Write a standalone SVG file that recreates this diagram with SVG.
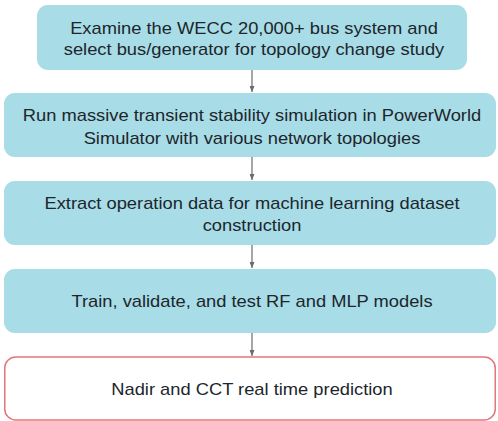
<svg xmlns="http://www.w3.org/2000/svg" width="498" height="421" viewBox="0 0 498 421">
<defs>
<style>
.box{fill:#a8dce7;}
.end{fill:#ffffff;stroke:#e3767c;stroke-width:1.5;}
.t{font-family:"Liberation Sans",Arial,sans-serif;font-size:16.8px;fill:#1c262b;text-anchor:middle;}
.c{stroke:#6b6b6b;stroke-width:1.2;fill:none;marker-end:url(#ah);}
</style>
<marker id="ah" viewBox="0 0 6 5" refX="6" refY="2.5" markerWidth="6" markerHeight="5" markerUnits="userSpaceOnUse" orient="auto">
<path d="M0,0 L6,2.5 L0,5 z" fill="#6b6b6b"/>
</marker>
</defs>
<rect width="498" height="421" fill="#ffffff"/>
<g id="connectors">
<line class="c" x1="252" y1="70" x2="252" y2="92"/>
<line class="c" x1="252" y1="157" x2="252" y2="180"/>
<line class="c" x1="252" y1="245" x2="252" y2="268"/>
<line class="c" x1="252" y1="333" x2="252" y2="356"/>
</g>
<g id="n1">
<rect class="box" x="37" y="5" width="430" height="65" rx="11"/>
<g transform="translate(254 0) scale(1.09 1)">
<text class="t" x="0" y="34.5">Examine the WECC 20,000+ bus system and</text>
<text class="t" x="0" y="55">select bus/generator for topology change study</text>
</g>
</g>
<g id="n2">
<rect class="box" x="4" y="93" width="492" height="64" rx="11"/>
<g transform="translate(252 0) scale(1.09 1)">
<text class="t" x="0" y="121.5">Run massive transient stability simulation in PowerWorld</text>
<text class="t" x="0" y="144.5">Simulator with various network topologies</text>
</g>
</g>
<g id="n3">
<rect class="box" x="4" y="181" width="492" height="64" rx="11"/>
<g transform="translate(252 0) scale(1.09 1)">
<text class="t" x="0" y="209.5">Extract operation data for machine learning dataset</text>
<text class="t" x="0" y="231.5">construction</text>
</g>
</g>
<g id="n4">
<rect class="box" x="4" y="269" width="492" height="64" rx="11"/>
<g transform="translate(252 0) scale(1.09 1)">
<text class="t" x="0" y="307">Train, validate, and test RF and MLP models</text>
</g>
</g>
<g id="n5">
<rect class="end" x="4.75" y="357" width="490.5" height="63" rx="11"/>
<g transform="translate(252 0) scale(1.09 1)">
<text class="t" x="0" y="395">Nadir and CCT real time prediction</text>
</g>
</g>
</svg>
